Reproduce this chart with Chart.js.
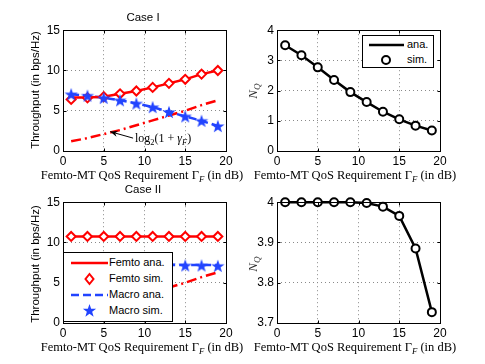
<!DOCTYPE html>
<html>
<head>
<meta charset="utf-8">
<script src="https://cdn.jsdelivr.net/npm/chart.js@4.4.0/dist/chart.umd.min.js"></script>
<style>
body { margin: 0; background: #fff; width: 485px; height: 364px; position: relative; overflow: hidden; font-family: "Liberation Sans", Arial, sans-serif; }
canvas { position: absolute; }
.t { position: absolute; font-size: 11.5px; color: #000; white-space: nowrap; transform: translate(-50%, -50%); }
.xl { font-family: "Liberation Serif", serif; font-size: 12.5px; }
.rot { transform: translate(-50%, -50%) rotate(-90deg); }
.nq { font-family: "Liberation Serif", serif; font-size: 13px; color: #333; }
sub { font-size: 70%; vertical-align: -3px; line-height: 0; }
.leg { position: absolute; background: #fff; border: 1px solid #000; box-sizing: border-box; font-size: 11px; }
.row { position: absolute; left: 0; height: 16px; width: 100%; }
.row svg { position: absolute; left: 4px; top: 0; }
.row span { position: absolute; top: 1px; }
</style>
</head>
<body>
<canvas id="c1" width="203" height="151" style="left:33px;top:20px"></canvas>
<canvas id="c2" width="203" height="151" style="left:247px;top:20px"></canvas>
<canvas id="c3" width="203" height="151" style="left:33px;top:192px"></canvas>
<canvas id="c4" width="203" height="151" style="left:247px;top:192px"></canvas>

<div class="t" style="left:143px;top:17px">Case I</div>
<div class="t" style="left:143px;top:189px">Case II</div>
<div class="t rot" style="left:35px;top:90px">Throughput (in bps/Hz)</div>
<div class="t rot" style="left:35px;top:264px">Throughput (in bps/Hz)</div>
<div class="t rot nq" style="left:253px;top:91px"><i>N</i><sub><i>Q</i></sub></div>
<div class="t rot nq" style="left:253px;top:264px"><i>N</i><sub><i>Q</i></sub></div>
<div class="t xl" style="left:142px;top:175px">Femto-MT QoS Requirement Γ<sub><i>F</i></sub> (in dB)</div>
<div class="t xl" style="left:355px;top:175px">Femto-MT QoS Requirement Γ<sub><i>F</i></sub> (in dB)</div>
<div class="t xl" style="left:142px;top:347px">Femto-MT QoS Requirement Γ<sub><i>F</i></sub> (in dB)</div>
<div class="t xl" style="left:355px;top:347px">Femto-MT QoS Requirement Γ<sub><i>F</i></sub> (in dB)</div>
<div class="t xl" style="left:135px;top:138px;transform:translateY(-50%);font-size:12px">log<sub>2</sub>(1 + <i>γ</i><sub><i>F</i></sub>)</div>

<div class="leg" style="left:362px;top:35px;width:72px;height:33px">
  <div class="row" style="top:1px">
    <svg width="40" height="16"><line x1="2" y1="8" x2="37" y2="8" stroke="#000" stroke-width="2.5"/></svg>
    <span style="left:44px">ana.</span>
  </div>
  <div class="row" style="top:16px">
    <svg width="40" height="16"><circle cx="19" cy="8" r="4" fill="#fff" stroke="#000" stroke-width="2"/></svg>
    <span style="left:44px">sim.</span>
  </div>
</div>

<div class="leg" style="left:63px;top:252px;width:110px;height:70px">
  <div class="row" style="top:2px">
    <svg width="42" height="16"><line x1="3" y1="8" x2="40" y2="8" stroke="#ff0000" stroke-width="2.5"/></svg>
    <span style="left:45px">Femto ana.</span>
  </div>
  <div class="row" style="top:18px">
    <svg width="42" height="16"><polygon points="21.5,3 25.5,8 21.5,13 17.5,8" fill="#fff" stroke="#ff0000" stroke-width="2"/></svg>
    <span style="left:45px">Femto sim.</span>
  </div>
  <div class="row" style="top:34px">
    <svg width="42" height="16"><line x1="3" y1="8" x2="40" y2="8" stroke="#2244ff" stroke-width="2.5" stroke-dasharray="8,4"/></svg>
    <span style="left:45px">Macro ana.</span>
  </div>
  <div class="row" style="top:50px">
    <svg width="42" height="16"><polygon points="21.5,1 23.15,5.73 28.16,5.84 24.16,8.87 25.61,13.66 21.5,10.8 17.39,13.66 18.84,8.87 14.84,5.84 19.85,5.73" fill="#2244ff"/></svg>
    <span style="left:45px">Macro sim.</span>
  </div>
</div>

<script>
// x axis: QoS requirement in dB
const gammaDb = [1, 3, 5, 7, 9, 11, 13, 15, 17, 19]

// Case I throughput
const femtoAnaI = [6.65, 6.65, 6.75, 7.1, 7.45, 7.9, 8.4, 8.9, 9.55, 10.0]
const femtoSimI = [6.4, 6.6, 6.75, 7.1, 7.45, 7.9, 8.4, 8.9, 9.55, 10.0]
const macroAnaI = [7.05, 6.87, 6.6, 6.3, 5.9, 5.45, 4.85, 4.3, 3.75, 3.1]
const macroSimI = [7.05, 6.87, 6.6, 6.3, 5.9, 5.45, 4.85, 4.3, 3.75, 3.1]
const logLine = [1.2, 1.6, 2.1, 2.6, 3.2, 3.8, 4.4, 5.0, 5.7, 6.3]

// Case II throughput
const femtoAnaII = [10.75, 10.75, 10.75, 10.75, 10.75, 10.75, 10.75, 10.75, 10.75, 10.75]
const femtoSimII = [10.75, 10.75, 10.75, 10.75, 10.75, 10.75, 10.75, 10.75, 10.75, 10.75]
const macroAnaII = [7.2, 7.2, 7.2, 7.2, 7.2, 7.2, 7.2, 7.2, 7.2, 7.2]
const macroSimII = [7.2, 7.2, 7.2, 7.2, 7.2, 7.2, 7.2, 7.15, 7.15, 7.1]

// N_Q
const nqAnaI = [3.5, 3.17, 2.77, 2.35, 1.95, 1.62, 1.3, 1.05, 0.84, 0.68]
const nqSimI = [3.5, 3.17, 2.77, 2.35, 1.95, 1.62, 1.3, 1.05, 0.84, 0.68]
const nqAnaII = [4.0, 4.0, 4.0, 4.0, 4.0, 3.998, 3.989, 3.966, 3.885, 3.727]
const nqSimII = [4.0, 4.0, 4.0, 4.0, 4.0, 3.998, 3.989, 3.966, 3.885, 3.727]

// arrow for the log2 note (data coords, case I)
const arrowFrom = [8.6, 1.6]
const arrowTo = [5.8, 2.4]

const RED = '#ff0000'
const BLUE = '#2244ff'
const FONT = { family: '"Liberation Sans", Arial, sans-serif', size: 12 }

function pts(ys) {
    return gammaDb.map((x, i) => ({ x: x, y: ys[i] }))
}

function starImg(color, r) {
    let s = Math.ceil(r * 2 + 2)
    let c = document.createElement('canvas')
    c.width = s; c.height = s
    let g = c.getContext('2d')
    g.fillStyle = color
    g.beginPath()
    for (let i = 0; i < 10; i++) {
        let a = -Math.PI / 2 + i * Math.PI / 5
        let rr = i % 2 ? r * 0.4 : r
        g.lineTo(s / 2 + rr * Math.cos(a), s / 2 + rr * Math.sin(a) + r * 0.1)
    }
    g.closePath()
    g.fill()
    return c
}
const star = starImg(BLUE, 7)

// box + inward ticks, like matlab axes
const frame = {
    id: 'frame',
    afterDraw(chart) {
        const { ctx, chartArea: a } = chart
        const x = chart.scales.x, y = chart.scales.y
        ctx.save()
        ctx.strokeStyle = '#000'
        ctx.lineWidth = 1
        let L = Math.round(a.left) + 0.5, T = Math.round(a.top) + 0.5
        let R = Math.round(a.right) + 0.5, B = Math.round(a.bottom) + 0.5
        ctx.strokeRect(L, T, R - L, B - T)
        ctx.beginPath()
        x.ticks.forEach(t => {
            let px = Math.round(x.getPixelForValue(t.value)) + 0.5
            ctx.moveTo(px, B); ctx.lineTo(px, B - 3)
            ctx.moveTo(px, T); ctx.lineTo(px, T + 3)
        })
        y.ticks.forEach(t => {
            let py = Math.round(y.getPixelForValue(t.value)) + 0.5
            ctx.moveTo(L, py); ctx.lineTo(L + 3, py)
            ctx.moveTo(R, py); ctx.lineTo(R - 3, py)
        })
        ctx.stroke()
        if (chart.options.plugins.arrowNote) {
            let x0 = x.getPixelForValue(arrowFrom[0]), y0 = y.getPixelForValue(arrowFrom[1])
            let x1 = x.getPixelForValue(arrowTo[0]), y1 = y.getPixelForValue(arrowTo[1])
            let ang = Math.atan2(y1 - y0, x1 - x0)
            ctx.beginPath()
            ctx.moveTo(x0, y0); ctx.lineTo(x1, y1)
            ctx.stroke()
            ctx.fillStyle = '#000'
            ctx.beginPath()
            ctx.moveTo(x1, y1)
            ctx.lineTo(x1 - 8 * Math.cos(ang - 0.4), y1 - 8 * Math.sin(ang - 0.4))
            ctx.lineTo(x1 - 5 * Math.cos(ang), y1 - 5 * Math.sin(ang))
            ctx.lineTo(x1 - 8 * Math.cos(ang + 0.4), y1 - 8 * Math.sin(ang + 0.4))
            ctx.closePath()
            ctx.fill()
        }
        ctx.restore()
    }
}

function makeOpts(yMin, yMax, yStep, note) {
    return {
        responsive: false,
        animation: false,
        layout: { padding: { top: 10, right: 10, left: 0, bottom: 0 } },
        plugins: { legend: { display: false }, tooltip: { enabled: false }, arrowNote: note },
        scales: {
            x: {
                type: 'linear', min: 0, max: 20,
                afterFit: s => { s.height = 20 },
                ticks: { stepSize: 5, color: '#000', font: FONT, padding: 3, maxRotation: 0, autoSkip: false },
                grid: { color: '#8a8a8a', drawTicks: false },
                border: { display: false, dash: [1, 3] }
            },
            y: {
                type: 'linear', min: yMin, max: yMax,
                afterFit: s => { s.width = 30 },
                ticks: {
                    stepSize: yStep, color: '#000', font: FONT, padding: 3, autoSkip: false,
                    callback: v => String(Number(v.toFixed(3)))
                },
                grid: { color: '#8a8a8a', drawTicks: false },
                border: { display: false, dash: [1, 3] }
            }
        }
    }
}

function simMarks(ys, color, style, r) {
    return {
        data: pts(ys), showLine: false, clip: false,
        pointStyle: style, pointRadius: r, pointBorderWidth: 2,
        pointBorderColor: color, pointBackgroundColor: '#fff'
    }
}
function starMarks(ys) {
    return { data: pts(ys), showLine: false, clip: false, pointStyle: star, pointRadius: 7 }
}
function anaLine(ys, color, dash) {
    return {
        data: pts(ys), showLine: true, borderColor: color, borderWidth: 2.5, borderDash: dash || [],
        pointRadius: 0, tension: 0, clip: false, fill: false
    }
}

function throughputChart(id, fa, fs, ma, ms, note) {
    new Chart(document.getElementById(id), {
        type: 'scatter',
        data: {
            datasets: [
                starMarks(ms),
                simMarks(fs, RED, 'rectRot', 4.5),
                anaLine(fa, RED),
                anaLine(ma, BLUE, [8, 4]),
                anaLine(logLine, RED, [10, 4, 2, 4])
            ]
        },
        options: makeOpts(0, 15, 5, note),
        plugins: [frame]
    })
}

function nqChart(id, ana, sim, yMin, yMax, yStep) {
    new Chart(document.getElementById(id), {
        type: 'scatter',
        data: {
            datasets: [
                simMarks(sim, '#000', 'circle', 4),
                anaLine(ana, '#000')
            ]
        },
        options: makeOpts(yMin, yMax, yStep, false),
        plugins: [frame]
    })
}

throughputChart('c1', femtoAnaI, femtoSimI, macroAnaI, macroSimI, true)
nqChart('c2', nqAnaI, nqSimI, 0, 4, 1)
throughputChart('c3', femtoAnaII, femtoSimII, macroAnaII, macroSimII, false)
nqChart('c4', nqAnaII, nqSimII, 3.7, 4, 0.1)
</script>
</body>
</html>
